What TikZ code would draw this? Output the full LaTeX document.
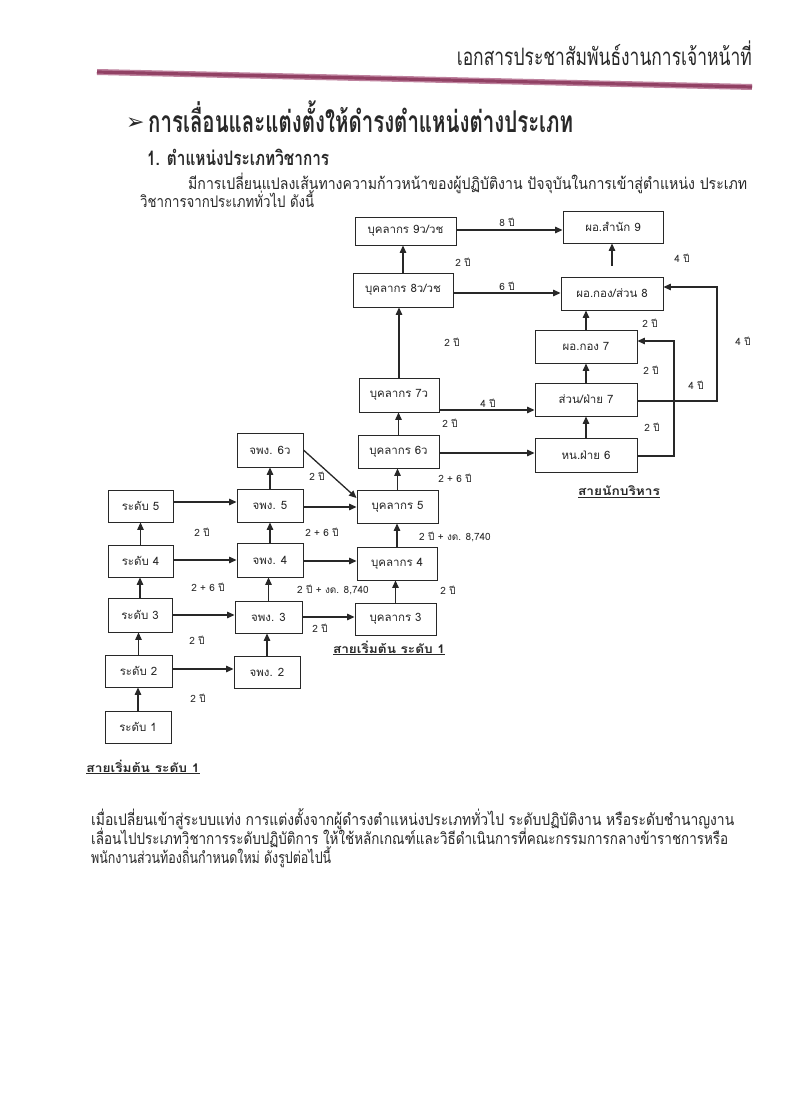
\documentclass[tikz,border=0pt]{standalone}
\usepackage{fontspec}
\usepackage{graphicx}
\setmainfont{Loma}[Script=Thai]
\newfontfamily\symfont{DejaVu Sans}
\usetikzlibrary{arrows.meta}
\definecolor{ink}{RGB}{40,40,40}
\definecolor{rulered}{RGB}{145,65,100}
\definecolor{rulepink}{RGB}{190,130,158}
\newcommand{\fitw}[2]{\resizebox{#1}{\height}{#2}}
\newcommand{\fs}[1]{\fontsize{#1}{#1}\selectfont}
\begin{document}
\begin{tikzpicture}[x=1pt,y=-1pt,
  pbox/.style={draw=ink,line width=0.9pt,inner sep=0pt,text=ink,font=\fs{11.5}},
  arr/.style={draw=ink,line width=1.3pt,-{Triangle[length=7.5pt,width=6.5pt]}},
  lbl/.style={text=ink,inner sep=0pt,font=\fs{10}},
  txt/.style={text=ink,inner sep=0pt},
]
\fill[white] (0,0) rectangle (800,1115);
\useasboundingbox (0,0) rectangle (800,1115);

% header
\node[txt,anchor=base east] (hdr) at (752,66) {\fitw{295pt}{\fs{24}เอกสารประชาสัมพันธ์งานการเจ้าหน้าที่}};
\draw[rulepink,line width=6pt] (97,72) -- (752,87);
\draw[rulered,line width=3.2pt] (97,72) -- (752,87);

% title
\node[txt,anchor=base west] (arw) at (126,130) {\symfont\fs{22}➢};
\node[txt,anchor=base west] (ttl) at (148,133) {\fitw{425pt}{\bfseries\fs{30}การเลื่อนและแต่งตั้งให้ดำรงตำแหน่งต่างประเภท}};
\node[txt,anchor=base west] (sub) at (147,166) {\fitw{182pt}{\bfseries\fs{20}1. ตำแหน่งประเภทวิชาการ}};
\node[txt,anchor=base west] (p1) at (188,190) {\fitw{559pt}{\fs{16}มีการเปลี่ยนแปลงเส้นทางความก้าวหน้าของผู้ปฏิบัติงาน ปัจจุบันในการเข้าสู่ตำแหน่ง ประเภท}};
\node[txt,anchor=base west] (p2) at (140,208) {\fitw{174pt}{\fs{16}วิชาการจากประเภททั่วไป ดังนี้}};

% boxes
\node[pbox,minimum width=101pt,minimum height=28pt] (b9) at (405.5,231) {บุคลากร 9ว/วช};
\node[pbox,minimum width=100pt,minimum height=32pt] (s9) at (613,227) {ผอ.สำนัก 9};
\node[pbox,minimum width=100pt,minimum height=34pt] (b8) at (403,290) {บุคลากร 8ว/วช};
\node[pbox,minimum width=102pt,minimum height=33pt] (d8) at (612,293.5) {ผอ.กอง/ส่วน 8};
\node[pbox,minimum width=102pt,minimum height=33pt] (d7) at (586,346.5) {ผอ.กอง 7};
\node[pbox,minimum width=102pt,minimum height=33pt] (f7) at (586,399.5) {ส่วน/ฝ่าย 7};
\node[pbox,minimum width=102pt,minimum height=34pt] (h6) at (586,455) {หน.ฝ่าย 6};
\node[pbox,minimum width=80pt,minimum height=34pt] (b7) at (399,395) {บุคลากร 7ว};
\node[pbox,minimum width=81pt,minimum height=33pt] (b6) at (398.5,451.5) {บุคลากร 6ว};
\node[pbox,minimum width=81pt,minimum height=33pt] (b5) at (397.5,506.5) {บุคลากร 5};
\node[pbox,minimum width=80pt,minimum height=33pt] (b4) at (397,563.5) {บุคลากร 4};
\node[pbox,minimum width=81pt,minimum height=32pt] (b3) at (395.5,619) {บุคลากร 3};
\node[pbox,minimum width=66pt,minimum height=34pt] (j6) at (270,450) {จพง. 6ว};
\node[pbox,minimum width=66pt,minimum height=33pt] (j5) at (270,505.5) {จพง. 5};
\node[pbox,minimum width=66pt,minimum height=34pt] (j4) at (270,560) {จพง. 4};
\node[pbox,minimum width=67pt,minimum height=32pt] (j3) at (268.5,617) {จพง. 3};
\node[pbox,minimum width=66pt,minimum height=32pt] (j2) at (267,672) {จพง. 2};
\node[pbox,minimum width=65pt,minimum height=32pt] (r5) at (140.5,506) {ระดับ 5};
\node[pbox,minimum width=65pt,minimum height=32pt] (r4) at (140.5,561) {ระดับ 4};
\node[pbox,minimum width=64pt,minimum height=34pt] (r3) at (140,615) {ระดับ 3};
\node[pbox,minimum width=67pt,minimum height=32pt] (r2) at (138.5,671) {ระดับ 2};
\node[pbox,minimum width=66pt,minimum height=32pt] (r1) at (138,727) {ระดับ 1};

% horizontal arrows
\draw[arr] (b9.east |- 0,230) -- (s9.west |- 0,230);
\draw[arr] (b8.east |- 0,293) -- (d8.west |- 0,293);
\draw[arr] (b7.east |- 0,410) -- (f7.west |- 0,410);
\draw[arr] (b6.east |- 0,453) -- (h6.west |- 0,453);
\draw[arr] (j5.east |- 0,507) -- (b5.west |- 0,507);
\draw[arr] (r5.east |- 0,502) -- (j5.west |- 0,502);
\draw[arr] (r4.east |- 0,560) -- (j4.west |- 0,560);
\draw[arr] (j4.east |- 0,561) -- (b4.west |- 0,561);
\draw[arr] (r3.east |- 0,615) -- (j3.west |- 0,615);
\draw[arr] (j3.east |- 0,617) -- (b3.west |- 0,617);
\draw[arr] (r2.east |- 0,669) -- (j2.west |- 0,669);
\draw[arr] (j6.east |- 0,450) -- (b5.west |- 0,498);

% vertical arrows
\draw[arr] (b8.north) -- (b8.north |- b9.south);
\draw[arr] (b7.north) -- (b7.north |- b8.south);
\draw[arr] (b6.north) -- (b6.north |- b7.south);
\draw[arr] (b5.north) -- (b5.north |- b6.south);
\draw[arr] (b4.north) -- (b4.north |- b5.south);
\draw[arr] (b3.north) -- (b3.north |- b4.south);
\draw[arr] ([yshift=11pt]d8.north) -- (d8.north |- s9.south);
\draw[arr] (d7.north) -- (d7.north |- d8.south);
\draw[arr] (f7.north) -- (f7.north |- d7.south);
\draw[arr] (h6.north) -- (h6.north |- f7.south);
\draw[arr] (j5.north) -- (j5.north |- j6.south);
\draw[arr] (j4.north) -- (j4.north |- j5.south);
\draw[arr] (j3.north) -- (j3.north |- j4.south);
\draw[arr] (j2.north) -- (j2.north |- j3.south);
\draw[arr] (r4.north) -- (r4.north |- r5.south);
\draw[arr] (r3.north) -- (r3.north |- r4.south);
\draw[arr] (r2.north) -- (r2.north |- r3.south);
\draw[arr] (r1.north) -- (r1.north |- r2.south);

% elbow arrows
\draw[arr] (f7.east |- 0,401) -- (717,401) -- (717,287) -- (d8.east |- 0,287);
\draw[arr] (h6.east |- 0,456) -- (674,456) -- (674,341) -- (d7.east |- 0,341);

% labels
\node[lbl] (l1) at (507,222) {8 ปี};
\node[lbl] (l2) at (463,262) {2 ปี};
\node[lbl] (l3) at (507,286) {6 ปี};
\node[lbl] (l4) at (682,258) {4 ปี};
\node[lbl] (l5) at (650,323) {2 ปี};
\node[lbl] (l6) at (452,342) {2 ปี};
\node[lbl] (l7) at (743,341) {4 ปี};
\node[lbl] (l8) at (651,370) {2 ปี};
\node[lbl] (l9) at (696,385) {4 ปี};
\node[lbl] (l10) at (488,403) {4 ปี};
\node[lbl] (l11) at (450,423) {2 ปี};
\node[lbl] (l12) at (652,427) {2 ปี};
\node[lbl] (l13) at (317,476) {2 ปี};
\node[lbl] (l14) at (455,478) {2 + 6 ปี};
\node[lbl] (l15) at (202,532) {2 ปี};
\node[lbl] (l16) at (322,532) {2 + 6 ปี};
\node[lbl] (l17) at (455,537) {2 ปี + งด. 8,740};
\node[lbl] (l18) at (208,587) {2 + 6 ปี};
\node[lbl] (l19) at (333,590) {2 ปี + งด. 8,740};
\node[lbl] (l20) at (448,590) {2 ปี};
\node[lbl] (l21) at (320,628) {2 ปี};
\node[lbl] (l22) at (197,640) {2 ปี};
\node[lbl] (l23) at (198,698) {2 ปี};

% line captions
\node[txt] (c1) at (619,492) {\fitw{82pt}{\bfseries\fs{12}\underline{สายนักบริหาร}}};
\node[txt] (c2) at (389,648) {\fitw{112pt}{\bfseries\fs{12}\underline{สายเริ่มต้น ระดับ 1}}};
\node[txt] (c3) at (143,767) {\fitw{113pt}{\bfseries\fs{12}\underline{สายเริ่มต้น ระดับ 1}}};

% bottom paragraph
\node[txt,anchor=base west] (q1) at (91,825) {\fitw{643pt}{\fs{16}เมื่อเปลี่ยนเข้าสู่ระบบแท่ง การแต่งตั้งจากผู้ดำรงตำแหน่งประเภททั่วไป ระดับปฏิบัติงาน หรือระดับชำนาญงาน}};
\node[txt,anchor=base west] (q2) at (91,844) {\fitw{637pt}{\fs{16}เลื่อนไปประเภทวิชาการระดับปฏิบัติการ ให้ใช้หลักเกณฑ์และวิธีดำเนินการที่คณะกรรมการกลางข้าราชการหรือ}};
\node[txt,anchor=base west] (q3) at (91,863) {\fitw{240pt}{\fs{16}พนักงานส่วนท้องถิ่นกำหนดใหม่ ดังรูปต่อไปนี้}};
\end{tikzpicture}
\end{document}
